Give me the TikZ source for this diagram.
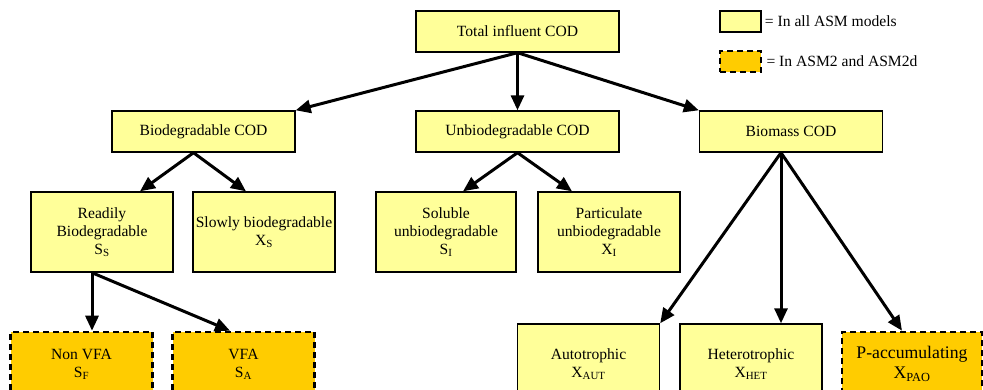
\documentclass[tikz,border=0pt]{standalone}
\usepackage{fontspec}
\setmainfont{Liberation Serif}
\usetikzlibrary{arrows.meta}
\definecolor{asmyellow}{RGB}{255,255,153}
\definecolor{asmorange}{RGB}{255,204,0}
\tikzstyle{cod box}=[draw,line width=1.4pt,fill=asmyellow,align=center,inner sep=1pt,font=\rmfamily\fontsize{15.6}{18}\selectfont]
\tikzstyle{wide box}=[cod box,minimum width=203pt,minimum height=41pt]
\tikzstyle{mid box}=[cod box,minimum width=183pt,minimum height=41pt]
\tikzstyle{tall box}=[cod box,minimum width=142pt,minimum height=80pt]
\tikzstyle{asm2 box}=[tall box,fill=asmorange,line width=2.6pt,dash pattern=on 6pt off 4pt,minimum height=64pt]
\tikzstyle{legend box}=[cod box,minimum width=41pt,minimum height=21pt]
\tikzstyle{legend text}=[anchor=west,inner sep=1pt,font=\rmfamily\fontsize{15.6}{18}\selectfont]
\tikzstyle{edge}=[draw,line width=3pt,-{Triangle[length=15pt,width=13pt]}]

\begin{document}
\begin{tikzpicture}[x=1pt,y=-1pt]
    \clip[use as bounding box] (0,0) rectangle (983,389);

    % top levels
    \foreach \pos/\name/\txt in {{(517.5,31.5)/total/Total influent COD},
                                 {(517.5,131.5)/unbio/Unbiodegradable COD}}
        \node[wide box] (\name) at \pos {\txt};
    \foreach \pos/\name/\txt in {{(203.5,131.5)/biod/Biodegradable COD},
                                 {(791,131.5)/biom/Biomass COD}}
        \node[mid box] (\name) at \pos {\txt};

    % fractions
    \foreach \pos/\name/\txt in {{(102,232)/ready/{Readily\\Biodegradable\\S\textsubscript{S}}},
                                 {(264,232)/slow/{Slowly biodegradable\\X\textsubscript{S}}},
                                 {(609,232)/part/{Particulate\\unbiodegradable\\X\textsubscript{I}}},
                                 {(588.5,364)/auto/{Autotrophic\\X\textsubscript{AUT}}},
                                 {(751,364)/het/{Heterotrophic\\X\textsubscript{HET}}}}
        \node[tall box] (\name) at \pos {\txt};
    \node[tall box,minimum width=140pt] (sol) at (446,232) {Soluble\\unbiodegradable\\S\textsubscript{I}};
    \foreach \pos/\name/\txt in {{(81.5,364)/nonvfa/{Non VFA\\S\textsubscript{F}}},
                                 {(243.5,364)/vfa/{VFA\\S\textsubscript{A}}}}
        \node[asm2 box] (\name) at \pos {\txt};
    \node[asm2 box,minimum width=140pt,font=\rmfamily\fontsize{17.7}{20}\selectfont] (pao) at (912,364)
        {P-accumulating\\X\textsubscript{PAO}};

    % legend
    \node[legend box] (leg1) at (740.5,21.5) {};
    \node[legend box,fill=asmorange,line width=2.6pt,dash pattern=on 6pt off 4pt] (leg2) at (740.5,61.5) {};
    \node[legend text] (leg1txt) at ([xshift=2pt]leg1.east) {= In all ASM models};
    \node[legend text] (leg2txt) at ([xshift=3pt]leg2.east) {= In ASM2 and ASM2d};

    \foreach \a/\sx/\b/\bx in {total/0/unbio/0, biod/-10/ready/38, biod/-10/slow/-18,
                               unbio/0/sol/17, unbio/0/part/-37,
                               ready/-10/nonvfa/10.5, ready/-10/vfa/-13.5,
                               biom/-10/het/30, biom/-10/pao/-10}
        \path[edge] ([xshift=\sx pt]\a.south) -- ([xshift=\bx pt]\b.north);
    \path[edge] (total.south) -- (biod.north east);
    \path[edge] (total.south) -- (biom.north west);
    \path[edge] ([xshift=-10pt]biom.south) -- (auto.north east);
\end{tikzpicture}
\end{document}
